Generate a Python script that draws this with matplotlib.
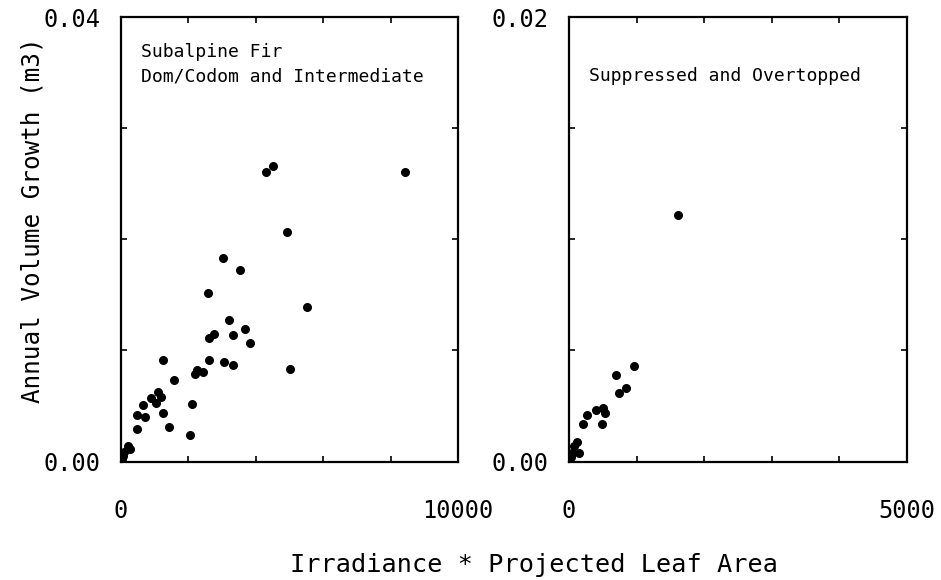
import matplotlib
matplotlib.use("Agg")
import matplotlib.pyplot as plt

plt.rcParams['font.family'] = ['DejaVu Sans Mono']

# dominant / codominant / intermediate
dom_x = [4302, 4500, 8424, 4915, 3022, 3528, 2586, 5530, 3191, 3666,
         3330, 2745, 2605, 3825, 1258, 2605, 3062, 3310, 5014, 2269,
         2427, 2209, 1585, 1089, 892, 1189, 1041, 643, 2110, 465,
         703, 1249, 465, 1437, 2051, 197, 268, 98, 48, 30]
dom_y = [0.0261, 0.0266, 0.0261, 0.0207, 0.0183, 0.0172, 0.0152, 0.0139, 0.0127, 0.0119,
         0.0114, 0.0115, 0.0111, 0.0107, 0.0091, 0.0091, 0.0090, 0.0087, 0.0083, 0.0082,
         0.0081, 0.0079, 0.0073, 0.0063, 0.0057, 0.0058, 0.0053, 0.0051, 0.0052, 0.0042,
         0.0040, 0.0044, 0.0029, 0.0031, 0.0024, 0.0014, 0.0011, 0.0009, 0.0005, 0.0002]

# suppressed / overtopped
sup_x = [1617, 969, 697, 841, 742, 405, 500, 534, 272, 208, 490, 123, 74, 148, 49, 25]
sup_y = [0.0111, 0.0043, 0.0039, 0.0033, 0.0031, 0.0023, 0.0024, 0.0022, 0.0021, 0.0017,
         0.0017, 0.0009, 0.0007, 0.0004, 0.0004, 0.0002]

left_xticks = [0, 2000, 4000, 6000, 8000, 10000]
left_yticks = [0.0, 0.01, 0.02, 0.03, 0.04]
right_xticks = [0, 1000, 2000, 3000, 4000, 5000]
right_yticks = [0.0, 0.005, 0.01, 0.015, 0.02]

fig = plt.figure(figsize=(9.41, 5.8), dpi=100)
ax0 = fig.add_axes([0.1286, 0.2043, 0.3581, 0.766])
ax1 = fig.add_axes([0.6047, 0.2043, 0.3587, 0.766])


def style(ax, xt, yt, xlab, ylab):
    ax.set_xlim(xt[0], xt[-1])
    ax.set_ylim(yt[0], yt[-1])
    ax.set_xticks(xt)
    ax.set_yticks(yt)
    ax.set_xticklabels([xlab[0]] + [''] * (len(xt) - 2) + [xlab[1]])
    ax.set_yticklabels([ylab[0]] + [''] * (len(yt) - 2) + [ylab[1]])
    ax.tick_params(axis='both', direction='in', length=4, width=1.2,
                   top=True, right=True, labelsize=17)
    ax.tick_params(axis='x', pad=27)
    ax.tick_params(axis='y', pad=15)
    for s in ax.spines.values():
        s.set_linewidth(1.6)


ax0.scatter(dom_x, dom_y, s=30, color='black', zorder=3)
style(ax0, left_xticks, left_yticks, ['0', '10000'], ['0.00', '0.04'])
ax0.text(0.06, 0.894, 'Subalpine Fir\nDom/Codom and Intermediate',
         transform=ax0.transAxes, fontsize=13, va='center', ha='left', linespacing=1.45)

ax1.scatter(sup_x, sup_y, s=30, color='black', zorder=3)
style(ax1, right_xticks, right_yticks, ['0', '5000'], ['0.00', '0.02'])
ax1.text(0.06, 0.867, 'Suppressed and Overtopped',
         transform=ax1.transAxes, fontsize=13, va='center', ha='left')

fig.text(0.035, 0.621, 'Annual Volume Growth (m3)', rotation=90,
         fontsize=17.5, ha='center', va='center')
fig.text(0.308, 0.0138, 'Irradiance * Projected Leaf Area',
         fontsize=18.2, ha='left', va='baseline')

plt.savefig('out.png', dpi=100)
